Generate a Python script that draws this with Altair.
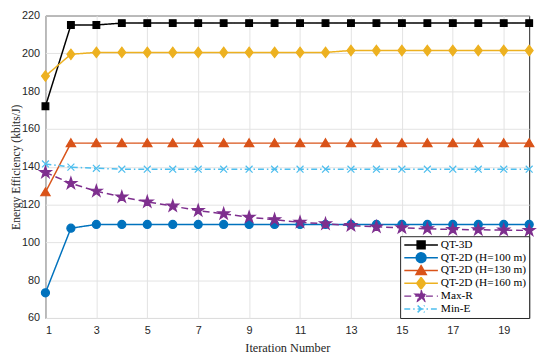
import altair as alt
import pandas as pd
import re

iterations = list(range(1, 21))
series_names = ["QT-3D", "QT-2D (H=100 m)", "QT-2D (H=130 m)", "QT-2D (H=160 m)", "Max-R", "Min-E"]
qt3d = [172, 215, 215] + [216] * 17
qt2d_h100 = [73.3, 107.5] + [109.5] * 18
qt2d_h130 = [126.5] + [152.5] * 19
qt2d_h160 = [188, 199.5] + [200.5] * 10 + [201.5] * 8
max_r = [137, 131.2, 127.1, 124, 121.4, 119.2, 116.8, 115.1, 113.3, 112,
         110.6, 109.8, 108.9, 108.2, 107.7, 107.2, 106.8, 106.7, 106.5, 106.3]
min_e = [141.5, 139.8, 139.2] + [138.7] * 17
y_ticks = [60, 80, 100, 120, 140, 160, 180, 200, 220]
x_ticks = [1, 3, 5, 7, 9, 11, 13, 15, 17, 19]

colors = ["#000000", "#0072BD", "#D95319", "#EDB120", "#7E2F8E", "#4DBEEE"]
dashes = [[1, 0], [1, 0], [1, 0], [1, 0], [7, 4], [6, 3, 1.5, 3]]

star = "M0,-1L0.225,-0.309L0.951,-0.309L0.363,0.118L0.588,0.809L0,0.382L-0.588,0.809L-0.363,0.118L-0.951,-0.309L-0.225,-0.309Z"


def scale_path(p, k):
    return re.sub(r"-?\d+\.?\d*", lambda m: f"{float(m.group(0)) * k:.3f}", p)


plot_shapes = [
    "M-0.68,-0.68H0.68V0.68H-0.68Z",
    "M-0.82,0A0.82,0.82 0 1,0 0.82,0A0.82,0.82 0 1,0 -0.82,0Z",
    "M0,-0.9L0.95,0.7L-0.95,0.7Z",
    "M0,-1.05L0.8,0L0,1.05L-0.8,0Z",
    scale_path(star, 1.25),
    "M-0.7,-0.7L0.7,0.7M-0.7,0.7L0.7,-0.7",
]
L = "M-3.1,0H3.1"
legend_shapes = [
    L + "M-0.73,-0.73H0.73V0.73H-0.73Z",
    L + "M-0.9,0A0.9,0.9 0 1,0 0.9,0A0.9,0.9 0 1,0 -0.9,0Z",
    L + "M0,-0.9L0.95,0.75L-0.95,0.75Z",
    L + "M0,-1.1L0.82,0L0,1.1L-0.82,0Z",
    L + scale_path(star, 1.1),
    L + "M-0.64,-0.64L0.64,0.64M-0.64,0.64L0.64,-0.64",
]

all_vals = [qt3d, qt2d_h100, qt2d_h130, qt2d_h160, max_r, min_e]
rows = []
for name, vals in zip(series_names, all_vals):
    for it, v in zip(iterations, vals):
        rows.append({"iter": it, "value": v, "series": name})
df = pd.DataFrame(rows)

x_axis = alt.Axis(values=x_ticks, title="Iteration Number", labelOverlap=False,
                  labelPadding=7, titlePadding=6)
y_axis = alt.Axis(values=y_ticks, title="Energy Efficiency (kbits/J)", labelOverlap=False,
                  titleX=-24.5, titleFontSize=11.8)
x_enc = alt.X("iter:Q", scale=alt.Scale(domain=[1, 20], nice=False), axis=x_axis)
y_enc = alt.Y("value:Q", scale=alt.Scale(domain=[60, 220], nice=False), axis=y_axis)

layers = []
for name, c, d in zip(series_names, colors, dashes):
    layers.append(
        alt.Chart(df).transform_filter(alt.datum.series == name).mark_line(
            strokeWidth=1.5, color=c, strokeDash=d
        ).encode(x=x_enc, y=y_enc)
    )
for name, c, shp in zip(series_names, colors, plot_shapes):
    layers.append(
        alt.Chart(df).transform_filter(alt.datum.series == name).mark_point(
            shape=shp, filled=True, fill=c, stroke=c, strokeWidth=1.2, size=100, opacity=1
        ).encode(x=x_enc, y=y_enc)
    )

legend_layer = alt.Chart(df).transform_filter("false").mark_point(
    filled=True, opacity=1, strokeWidth=1.5
).encode(
    x=x_enc, y=y_enc,
    color=alt.Color("series:N", scale=alt.Scale(domain=series_names, range=colors), legend=alt.Legend(title=None)),
    stroke=alt.Stroke("series:N", scale=alt.Scale(domain=series_names, range=colors), legend=alt.Legend(title=None)),
    shape=alt.Shape("series:N", scale=alt.Scale(domain=series_names, range=legend_shapes), legend=alt.Legend(title=None)),
    strokeDash=alt.StrokeDash("series:N", scale=alt.Scale(domain=series_names, range=dashes), legend=alt.Legend(title=None)),
)
layers.append(legend_layer)

chart = alt.layer(*layers).properties(
    width=491, height=307,
    autosize=alt.AutoSizeParams(type="none"),
    padding={"left": 38, "top": 5, "right": 13, "bottom": 40},
).configure_view(
    stroke="#262626", strokeWidth=1
).configure_axis(
    grid=True, gridColor="#e3e3e3", gridWidth=1,
    domain=False, ticks=False, labelOverlap=False,
    labelFont="Liberation Sans", labelFontSize=11, labelColor="#262626", labelPadding=6,
    titleFont="Liberation Serif", titleFontSize=12.5, titleFontWeight="normal", titleColor="#262626",
).configure_legend(
    orient="bottom-right", offset=0, padding=2.5,
    strokeColor="#262626", fillColor="white", strokeWidth=1,
    labelFont="Liberation Serif", labelFontSize=11.5, labelColor="#000000",
    symbolSize=121, symbolStrokeWidth=1.5, symbolOffset=12.3, labelOffset=13.5,
    rowPadding=0, clipHeight=12.6, symbolOpacity=1,
)

chart.save("out.html", embed_options={"renderer": "svg", "actions": False})
